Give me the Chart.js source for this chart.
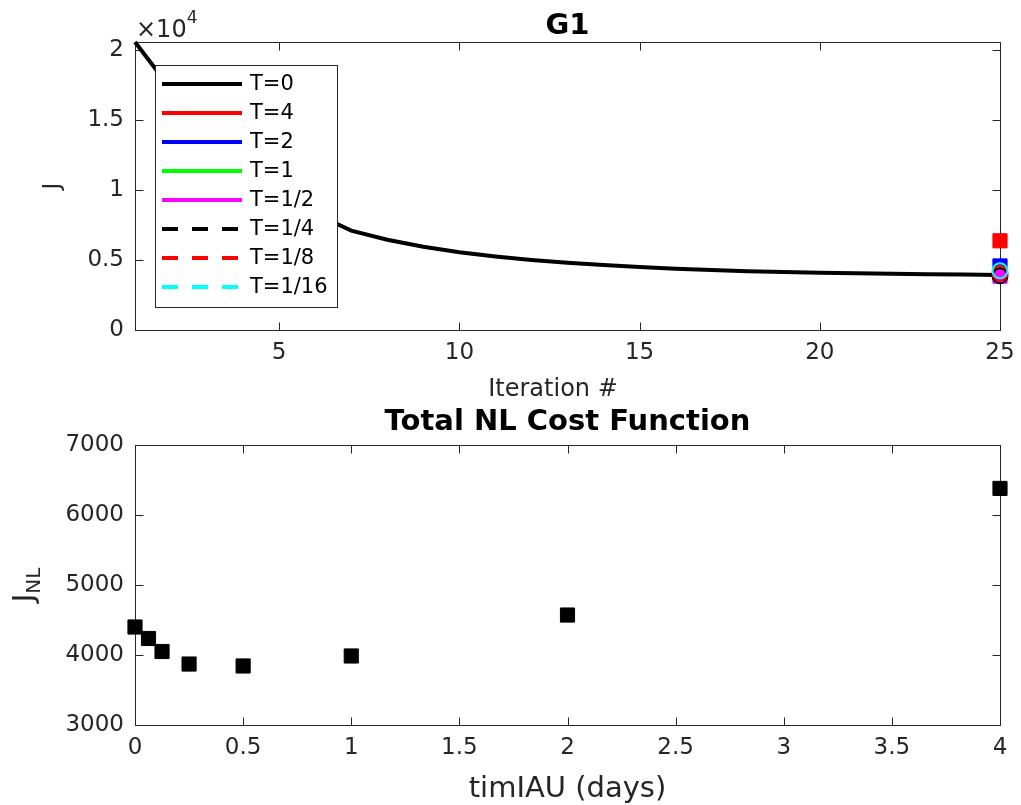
<!DOCTYPE html>
<html>
<head>
<meta charset="utf-8">
<script src="https://cdn.jsdelivr.net/npm/chart.js@4.4.0/dist/chart.umd.min.js"></script>
<style>
  html, body { margin: 0; padding: 0; background: #fff; }
  #wrap { position: relative; width: 1021px; height: 805px; }
  canvas { position: absolute; left: 0; }
  #topChart { top: 0; }
  #bottomChart { top: 400px; }
</style>
</head>
<body>
<div id="wrap">
  <canvas id="topChart" width="1021" height="400"></canvas>
  <canvas id="bottomChart" width="1021" height="405"></canvas>
</div>
<script>
// ---- data ----
const iterations = [1, 2, 3, 4, 5, 6, 7, 8, 9, 10, 11, 12, 13, 14, 15, 16, 17, 18, 19, 20, 21, 22, 23, 24, 25];
const costT0 = [20570, 17200, 14000, 11500, 9700, 8300, 7100, 6450, 5950, 5550, 5250, 5000, 4800, 4650, 4500,
                4380, 4280, 4200, 4140, 4090, 4050, 4020, 3990, 3960, 3930];

// IAU runs: final cost at the last iteration
const iauLabels = ['T=4', 'T=2', 'T=1', 'T=1/2', 'T=1/4', 'T=1/8', 'T=1/16'];
const iauColors = ['#ff0000', '#0000ff', '#00ff00', '#ff00ff', '#000000', '#ff0000', '#00ffff'];
const iauDashed = [false, false, false, false, true, true, true];
const iauFinal = [6370, 4575, 3986, 3843, 3871, 4050, 4236];

// bottom panel
const timIAU = [0, 0.0625, 0.125, 0.25, 0.5, 1, 2, 4];
const costNL = [4400, 4236, 4050, 3871, 3843, 3986, 4571, 6380];

// ticks
const topXTicks = [5, 10, 15, 20, 25];
const topYTicks = [0, 5000, 10000, 15000, 20000];
const botXTicks = [0, 0.5, 1, 1.5, 2, 2.5, 3, 3.5, 4];
const botYTicks = [3000, 4000, 5000, 6000, 7000];

const axisColor = '#262626';
const fontFamily = 'DejaVu Sans';
Chart.defaults.font.family = fontFamily;
Chart.defaults.color = axisColor;

// MATLAB-like box with inward ticks on all four sides
const matlabBox = {
    id: 'matlabBox',
    beforeDatasetsDraw(chart) {
        const { ctx, chartArea: a, scales: { x, y } } = chart;
        const L = Math.round(a.left) + 0.5, R = Math.round(a.right) + 0.5;
        const T = Math.round(a.top) + 0.5, B = Math.round(a.bottom) + 0.5;
        const tl = 8;
        ctx.save();
        ctx.strokeStyle = axisColor;
        ctx.lineWidth = 1;
        ctx.strokeRect(L, T, R - L, B - T);
        ctx.beginPath();
        x.ticks.forEach(t => {
            const px = Math.round(x.getPixelForValue(t.value)) + 0.5;
            ctx.moveTo(px, B); ctx.lineTo(px, B - tl);
            ctx.moveTo(px, T); ctx.lineTo(px, T + tl);
        });
        y.ticks.forEach(t => {
            const py = Math.round(y.getPixelForValue(t.value)) + 0.5;
            ctx.moveTo(L, py); ctx.lineTo(L + tl, py);
            ctx.moveTo(R, py); ctx.lineTo(R - tl, py);
        });
        ctx.stroke();
        ctx.restore();
    }
};

const fixedTicks = (values) => (scale) => { scale.ticks = values.map(v => ({ value: v })); };
// fixed axis sizes so the plot box lands where the figure has it
const fitX = (h) => (s) => { s.height = h; s.paddingLeft = 0; s.paddingRight = 0; };
const fitY = (w) => (s) => { s.width = w; s.paddingTop = 0; s.paddingBottom = 0; };

// ---------- top panel ----------
const topDatasets = [{
    label: 'T=0',
    data: iterations.map((it, i) => ({ x: it, y: costT0[i] })),
    showLine: true,
    borderColor: '#000000',
    borderWidth: 4,
    pointRadius: 0,
    clip: false,
    order: 10
}];
iauLabels.forEach((lab, i) => {
    topDatasets.push({
        label: lab,
        data: [{ x: iterations[iterations.length - 1], y: iauFinal[i] }],
        showLine: false,
        borderColor: iauColors[i],
        backgroundColor: iauDashed[i] ? 'rgba(0,0,0,0)' : iauColors[i],
        borderDash: iauDashed[i] ? [16, 14] : [],
        pointStyle: iauDashed[i] ? 'circle' : 'rect',
        pointRadius: iauDashed[i] ? 7.5 : 10,
        pointBorderWidth: iauDashed[i] ? 2 : 1,
        clip: false,
        order: 9 - i
    });
});

const topText = {
    id: 'topText',
    afterDraw(chart) {
        const { ctx, chartArea: a } = chart;
        ctx.save();
        ctx.fillStyle = axisColor;
        // x label
        ctx.font = '24px ' + fontFamily;
        ctx.textAlign = 'center';
        ctx.textBaseline = 'middle';
        ctx.fillText('Iteration #', 553, 390);
        // y label
        ctx.save();
        ctx.translate(59, (a.top + a.bottom) / 2);
        ctx.rotate(-Math.PI / 2);
        ctx.textBaseline = 'alphabetic';
        ctx.font = '23px ' + fontFamily;
        ctx.fillText('J', 0, 0);
        ctx.restore();
        // exponent
        ctx.textAlign = 'left';
        ctx.textBaseline = 'alphabetic';
        ctx.font = '24px ' + fontFamily;
        ctx.fillText('\u00d710', a.left + 1, 37);
        const w = ctx.measureText('\u00d710').width;
        ctx.font = '17px ' + fontFamily;
        ctx.fillText('4', a.left + 1 + w, 23);

        // legend
        const bx = 155.5, by = 65.5, bw = 182, bh = 242;
        ctx.fillStyle = '#ffffff';
        ctx.fillRect(bx, by, bw, bh);
        ctx.strokeStyle = axisColor;
        ctx.lineWidth = 1;
        ctx.strokeRect(bx, by, bw, bh);
        ctx.font = '21px ' + fontFamily;
        ctx.textBaseline = 'middle';
        chart.data.datasets.forEach((ds, i) => {
            const yy = 84 + i * 29;
            ctx.beginPath();
            ctx.strokeStyle = ds.borderColor;
            ctx.lineWidth = 4;
            ctx.setLineDash(ds.borderDash && ds.borderDash.length ? ds.borderDash : []);
            ctx.moveTo(162, yy);
            ctx.lineTo(242, yy);
            ctx.stroke();
            ctx.setLineDash([]);
            ctx.fillStyle = '#000000';
            ctx.fillText(ds.label, 250, yy + 1);
        });
        ctx.restore();
    }
};

new Chart(document.getElementById('topChart'), {
    type: 'scatter',
    data: { datasets: topDatasets },
    options: {
        responsive: false,
        animation: false,
        layout: { padding: { left: 0, right: 21, top: 0, bottom: 0 } },
        plugins: {
            legend: { display: false },
            tooltip: { enabled: false },
            title: {
                display: true,
                text: 'G1',
                fullSize: false,
                color: '#000000',
                font: { size: 29, weight: 'bold', lineHeight: 1 },
                padding: { top: 12, bottom: 1 }
            }
        },
        scales: {
            x: {
                type: 'linear', min: 1, max: 25,
                afterBuildTicks: fixedTicks(topXTicks),
                afterFit: fitX(70),
                grid: { display: false, drawTicks: false },
                border: { display: false },
                ticks: { font: { size: 23 }, color: axisColor, padding: 9, maxRotation: 0,
                         callback: (v) => String(v) }
            },
            y: {
                type: 'linear', min: 0, max: 20570,
                afterBuildTicks: fixedTicks(topYTicks),
                afterFit: fitY(135),
                grid: { display: false, drawTicks: false },
                border: { display: false },
                ticks: { font: { size: 23 }, color: axisColor, padding: 11,
                         callback: (v) => String(v / 1e4) }
            }
        }
    },
    plugins: [matlabBox, topText]
});

// ---------- bottom panel ----------
const bottomText = {
    id: 'bottomText',
    afterDraw(chart) {
        const { ctx, chartArea: a } = chart;
        ctx.save();
        ctx.fillStyle = axisColor;
        ctx.font = '29px ' + fontFamily;
        ctx.textAlign = 'center';
        ctx.textBaseline = 'middle';
        ctx.fillText('timIAU (days)', (a.left + a.right) / 2, 389);
        // J_NL
        ctx.save();
        ctx.translate(33, (a.top + a.bottom) / 2);
        ctx.rotate(-Math.PI / 2);
        ctx.textAlign = 'left';
        ctx.textBaseline = 'alphabetic';
        ctx.font = '29px ' + fontFamily;
        const wJ = ctx.measureText('J').width;
        ctx.font = '20px ' + fontFamily;
        const wNL = ctx.measureText('NL').width;
        const x0 = -(wJ + wNL) / 2;
        ctx.font = '29px ' + fontFamily;
        ctx.fillText('J', x0, 0);
        ctx.font = '20px ' + fontFamily;
        ctx.fillText('NL', x0 + wJ, 7);
        ctx.restore();
        ctx.restore();
    }
};

new Chart(document.getElementById('bottomChart'), {
    type: 'scatter',
    data: {
        datasets: [{
            label: 'J_NL',
            data: timIAU.map((t, i) => ({ x: t, y: costNL[i] })),
            showLine: false,
            pointStyle: 'rect',
            pointRadius: 10,
            pointBorderWidth: 1,
            borderColor: '#000000',
            backgroundColor: '#000000',
            clip: false
        }]
    },
    options: {
        responsive: false,
        animation: false,
        layout: { padding: { left: 0, right: 21, top: 0, bottom: 0 } },
        plugins: {
            legend: { display: false },
            tooltip: { enabled: false },
            title: {
                display: true,
                text: 'Total NL Cost Function',
                fullSize: false,
                color: '#000000',
                font: { size: 29, weight: 'bold', lineHeight: 1 },
                padding: { top: 8, bottom: 8 }
            }
        },
        scales: {
            x: {
                type: 'linear', min: 0, max: 4,
                afterBuildTicks: fixedTicks(botXTicks),
                afterFit: fitX(80),
                grid: { display: false, drawTicks: false },
                border: { display: false },
                ticks: { font: { size: 23 }, color: axisColor, padding: 9, maxRotation: 0,
                         callback: (v) => String(v) }
            },
            y: {
                type: 'linear', min: 3000, max: 7000,
                afterBuildTicks: fixedTicks(botYTicks),
                afterFit: fitY(135),
                grid: { display: false, drawTicks: false },
                border: { display: false },
                ticks: { font: { size: 23 }, color: axisColor, padding: 11,
                         callback: (v) => String(v) }
            }
        }
    },
    plugins: [matlabBox, bottomText]
});
</script>
</body>
</html>
